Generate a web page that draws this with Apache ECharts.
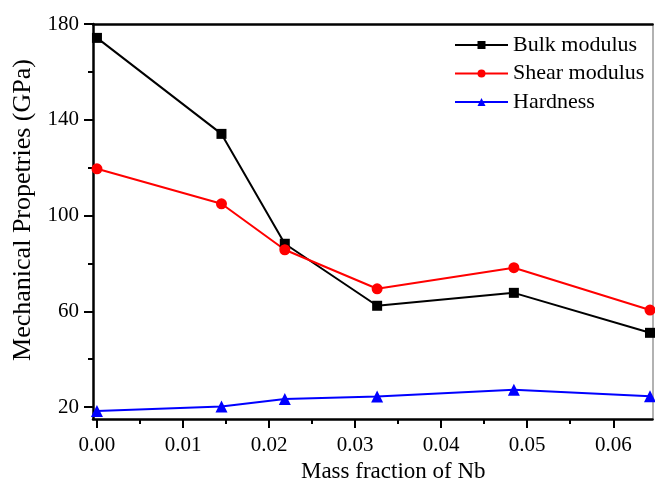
<!DOCTYPE html>
<html>
<head>
<meta charset="utf-8">
<script src="https://cdn.jsdelivr.net/npm/echarts@6/dist/echarts.min.js"></script>
<style>
  html, body {margin:0; padding:0; background:#fff;}
  #main {width:655px; height:481px;}
</style>
</head>
<body>
<div id="main"></div>
<script>
let nb_fraction = [0.0, 0.01447, 0.02183, 0.03256, 0.04845, 0.06427];
let bulk_modulus = [174.2, 134.1, 88.2, 62.3, 67.7, 51.0];
let shear_modulus = [119.5, 104.9, 85.7, 69.4, 78.2, 60.5];
let hardness_data = [18.3, 20.2, 23.4, 24.4, 27.2, 24.5];
let x_major = [0, 0.01, 0.02, 0.03, 0.04, 0.05, 0.06];
let x_minor = [0.005, 0.015, 0.025, 0.035, 0.045, 0.055];
let y_major = [20, 60, 100, 140, 180];
let y_minor = [40, 80, 120, 160];

function pairs(xs, ys){
    return xs.map((x, i) => [x, ys[i]]);
}

function data_chart(){
    let chart_box = echarts.init(document.getElementById('main'));
    let font = 'Liberation Serif';
    let x_min = -0.00046, x_max = 0.06456;
    let y_min = 15, y_max = 180;
    let option = {
        backgroundColor: '#fff',
        animation: false,
        grid: {left: 93, right: 2.5, top: 24, bottom: 62, containLabel: false, outerBoundsMode: 'none'},
        legend: {
            left: 454, top: 34,
            padding: 0,
            orient: 'vertical',
            itemWidth: 53, itemHeight: 10, itemGap: 6.5,
            textStyle: {color: '#000', fontSize: 22, fontFamily: font},
            data: ['Bulk modulus', 'Shear modulus', 'Hardness']
        },
        xAxis: [
            {
                type: 'value',
                min: x_min, max: x_max,
                position: 'bottom',
                name: 'Mass fraction of Nb',
                nameLocation: 'middle',
                nameGap: 41,
                nameTextStyle: {color: '#000', fontSize: 23, fontFamily: font, padding: [0, 0, 0, 41]},
                axisLine: {onZero: false, lineStyle: {color: '#000', width: 2.5}},
                axisTick: {length: 9, lineStyle: {color: '#000', width: 2}, customValues: x_major},
                axisLabel: {color: '#000', fontSize: 21, fontFamily: font, margin: 16,
                    customValues: x_major, formatter: v => v.toFixed(2)},
                splitLine: {show: false}
            },
            {
                type: 'value',
                min: x_min, max: x_max,
                position: 'bottom',
                axisLine: {show: false, onZero: false},
                axisTick: {length: 5, lineStyle: {color: '#000', width: 2}, customValues: x_minor},
                axisLabel: {show: false},
                splitLine: {show: false}
            },
            {
                type: 'value',
                min: x_min, max: x_max,
                position: 'top',
                axisLine: {onZero: false, lineStyle: {color: '#000', width: 2.5}},
                axisTick: {show: false},
                axisLabel: {show: false},
                splitLine: {show: false}
            }
        ],
        yAxis: [
            {
                type: 'value',
                min: y_min, max: y_max,
                position: 'left',
                name: 'Mechanical Propetries (GPa)',
                nameLocation: 'middle',
                nameGap: 57,
                nameTextStyle: {color: '#000', fontSize: 26, fontFamily: font, padding: [0, 0, 0, 23]},
                axisLine: {show: true, onZero: false, lineStyle: {color: '#000', width: 2.5}},
                axisTick: {show: true, length: 9, lineStyle: {color: '#000', width: 2}, customValues: y_major},
                axisLabel: {color: '#000', fontSize: 21, fontFamily: font, margin: 14, customValues: y_major},
                splitLine: {show: false}
            },
            {
                type: 'value',
                min: y_min, max: y_max,
                position: 'left',
                axisLine: {show: false, onZero: false},
                axisTick: {show: true, length: 5, lineStyle: {color: '#000', width: 2}, customValues: y_minor},
                axisLabel: {show: false},
                splitLine: {show: false}
            },
            {
                type: 'value',
                min: y_min, max: y_max,
                position: 'right',
                axisLine: {show: true, onZero: false, lineStyle: {color: '#999', width: 1.5}},
                axisTick: {show: false},
                axisLabel: {show: false},
                splitLine: {show: false}
            }
        ],
        series: [
            {
                name: 'Bulk modulus',
                type: 'line',
                symbol: 'rect',
                symbolSize: 10,
                data: pairs(nb_fraction, bulk_modulus),
                color: '#000',
                lineStyle: {width: 2},
                clip: false
            },
            {
                name: 'Shear modulus',
                type: 'line',
                symbol: 'circle',
                symbolSize: 11,
                data: pairs(nb_fraction, shear_modulus),
                color: '#ff0000',
                lineStyle: {width: 2},
                clip: false
            },
            {
                name: 'Hardness',
                type: 'line',
                symbol: 'triangle',
                symbolSize: 12,
                data: pairs(nb_fraction, hardness_data),
                color: '#0000ff',
                lineStyle: {width: 2},
                clip: false
            }
        ]
    };
    chart_box.setOption(option);
}

data_chart();
</script>
</body>
</html>
